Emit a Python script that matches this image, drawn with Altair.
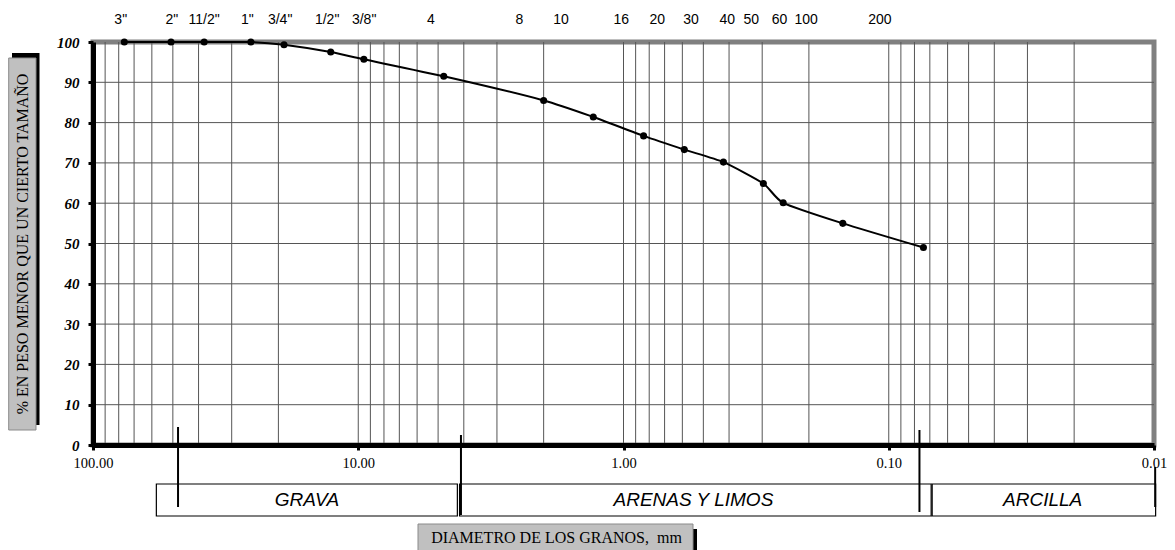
import altair as alt
import pandas as pd

# ---------------- data ----------------
sieve_labels = ['3"', '2"', '11/2"', '1"', '3/4"', '1/2"', '3/8"', '4', '10', '16',
                '20', '30', '40', '50', '60', '100', '200']
diameter_mm = [76.2, 50.8, 38.1, 25.4, 19.05, 12.7, 9.525, 4.76, 2.0, 1.30,
               0.84, 0.59, 0.42, 0.297, 0.25, 0.149, 0.074]
percent_passing = [100, 100, 100, 100, 99.3, 97.5, 95.7, 91.5, 85.5, 81.4,
                   76.7, 73.3, 70.2, 64.9, 60.1, 55.0, 49.0]

top_labels = ['3"', '2"', '11/2"', '1"', '3/4"', '1/2"', '3/8"', '4', '8', '10',
              '16', '20', '30', '40', '50', '60', '100', '200']
top_label_mm = [78.6, 50.4, 38.1, 26.2, 19.7, 13.1, 9.5, 5.32, 2.47, 1.72,
                1.02, 0.746, 0.556, 0.406, 0.330, 0.258, 0.205, 0.108]

grid_x_mm = [90, 80, 70, 60, 50, 40, 30, 20, 10,
             9, 8, 7, 6, 5, 4, 3, 2, 1,
             0.9, 0.8, 0.7, 0.6, 0.5, 0.4, 0.3, 0.2, 0.1,
             0.09, 0.08, 0.07, 0.06, 0.05, 0.04, 0.03, 0.02]
grid_y_pct = [10, 20, 30, 40, 50, 60, 70, 80, 90]
x_tick_values = [100, 10, 1, 0.1, 0.01]
y_tick_values = [0, 10, 20, 30, 40, 50, 60, 70, 80, 90, 100]

zone_names = ["GRAVA", "ARENAS Y LIMOS", "ARCILLA"]
zone_from_mm = [57.7, 4.15, 0.0686]
zone_to_mm = [4.23, 0.0692, 0.00986]
zone_label_mm = [15.6, 0.545, 0.0263]
divider_mm = [47.8, 4.1, 0.0766, 0.0099]

y_title = "% EN PESO MENOR QUE UN CIERTO TAMAÑO"
x_title = "DIAMETRO DE LOS GRANOS,\u00a0 mm"

# ---------------- tables ----------------
curve_df = pd.DataFrame({"d": diameter_mm, "p": percent_passing, "s": sieve_labels})
top_df = pd.DataFrame({"d": top_label_mm, "t": top_labels})
gx_df = pd.DataFrame({"d": grid_x_mm})
gy_df = pd.DataFrame({"p": grid_y_pct})
zone_df = pd.DataFrame({"d": zone_from_mm, "b": zone_to_mm, "c": zone_label_mm, "n": zone_names})
one = pd.DataFrame({"k": [0]})

W, H = 1061, 403
SERIF = "Liberation Serif"
SANS = "Liberation Sans"

xscale = alt.Scale(type="log", domain=[0.01, 100], reverse=True, nice=False)
yscale = alt.Scale(domain=[0, 100], nice=False)

xaxis = alt.Axis(values=x_tick_values, format=".2f", grid=False, title=None,
                 domainColor="black", domainWidth=5, tickColor="black", tickSize=5,
                 tickWidth=3, labelFont=SERIF, labelFontSize=14.5, labelColor="black",
                 labelPadding=6, labelFlush=False, labelOverlap=False, zindex=1)
yaxis = alt.Axis(values=y_tick_values, grid=False, title=None,
                 domainColor="black", domainWidth=5, tickColor="black", tickSize=5,
                 tickWidth=3, labelFont=SERIF, labelFontSize=15, labelFontStyle="italic",
                 labelFontWeight="bold", labelColor="black", labelPadding=9,
                 labelFlush=False, labelOverlap=False, zindex=1)


def X(field):
    return alt.X(f"{field}:Q", scale=xscale, axis=xaxis, title=None)


def Y(field):
    return alt.Y(f"{field}:Q", scale=yscale, axis=yaxis, title=None)


grid_v = alt.Chart(gx_df).mark_rule(color="#555555", strokeWidth=1).encode(x=X("d"))
grid_h = alt.Chart(gy_df).mark_rule(color="#555555", strokeWidth=1).encode(y=Y("p"))

line = alt.Chart(curve_df).mark_line(color="black", strokeWidth=2, interpolate="cardinal",
                                     tension=0.4).encode(
    x=X("d"), y=Y("p"))
points = alt.Chart(curve_df).mark_circle(color="black", size=50, opacity=1).encode(
    x=X("d"), y=Y("p"))

top_text = alt.Chart(top_df).mark_text(font=SANS, fontSize=14, baseline="middle",
                                       align="center", color="black").encode(
    x=X("d"), y=alt.value(-22), text="t:N")

zone_boxes = alt.Chart(zone_df).mark_rect(fill="white", stroke="black", strokeWidth=1.2).encode(
    x=X("d"), x2="b:Q", y=alt.value(442), y2=alt.value(474))
zone_text = alt.Chart(zone_df).mark_text(font=SANS, fontStyle="italic", fontSize=19,
                                         baseline="middle", align="center", color="black").encode(
    x=alt.X("c:Q", scale=xscale, axis=xaxis, title=None), y=alt.value(458), text="n:N")

divider_spans = [(385, 465), (393, 473), (388, 470), (425, 465)]
dividers = []
for dmm, (y0, y1) in zip(divider_mm, divider_spans):
    dividers.append(
        alt.Chart(pd.DataFrame({"d": [dmm]})).mark_rule(color="black", strokeWidth=2).encode(
            x=X("d"), y=alt.value(y0), y2=alt.value(y1)))

# y title box with shadow
yt_shadow = alt.Chart(one).mark_rect(fill="black").encode(
    x=alt.value(-81), x2=alt.value(-53.5), y=alt.value(11), y2=alt.value(383))
yt_box = alt.Chart(one).mark_rect(fill="#c0c0c0", stroke="#8a8a8a", strokeWidth=1).encode(
    x=alt.value(-84.3), x2=alt.value(-57), y=alt.value(16), y2=alt.value(388))
yt_text = alt.Chart(pd.DataFrame({"t": [y_title]})).mark_text(
    font=SERIF, fontSize=16, angle=270, baseline="middle", align="center", color="black").encode(
    x=alt.value(-70.5), y=alt.value(202), text="t:N")

# x title box with shadow
xt_shadow = alt.Chart(one).mark_rect(fill="black").encode(
    x=alt.value(329), x2=alt.value(604), y=alt.value(487), y2=alt.value(530))
xt_box = alt.Chart(one).mark_rect(fill="#c0c0c0", stroke="#8a8a8a", strokeWidth=1).encode(
    x=alt.value(325), x2=alt.value(600), y=alt.value(482), y2=alt.value(530))
xt_text = alt.Chart(pd.DataFrame({"t": [x_title]})).mark_text(
    font=SERIF, fontSize=16, baseline="middle", align="center", color="black").encode(
    x=alt.value(463.5), y=alt.value(496), text="t:N")

chart = alt.layer(
    grid_v, grid_h, line, points, top_text, zone_boxes, zone_text, *dividers,
    yt_shadow, yt_box, yt_text, xt_shadow, xt_box, xt_text
).properties(
    width=W, height=H,
    autosize=alt.AutoSizeParams(type="none"),
    padding={"left": 85, "top": 34, "right": 13, "bottom": 105},
    background="white",
).configure_view(stroke="#808080", strokeWidth=5)

chart.save("out.html", embed_options={"renderer": "svg", "actions": False})
